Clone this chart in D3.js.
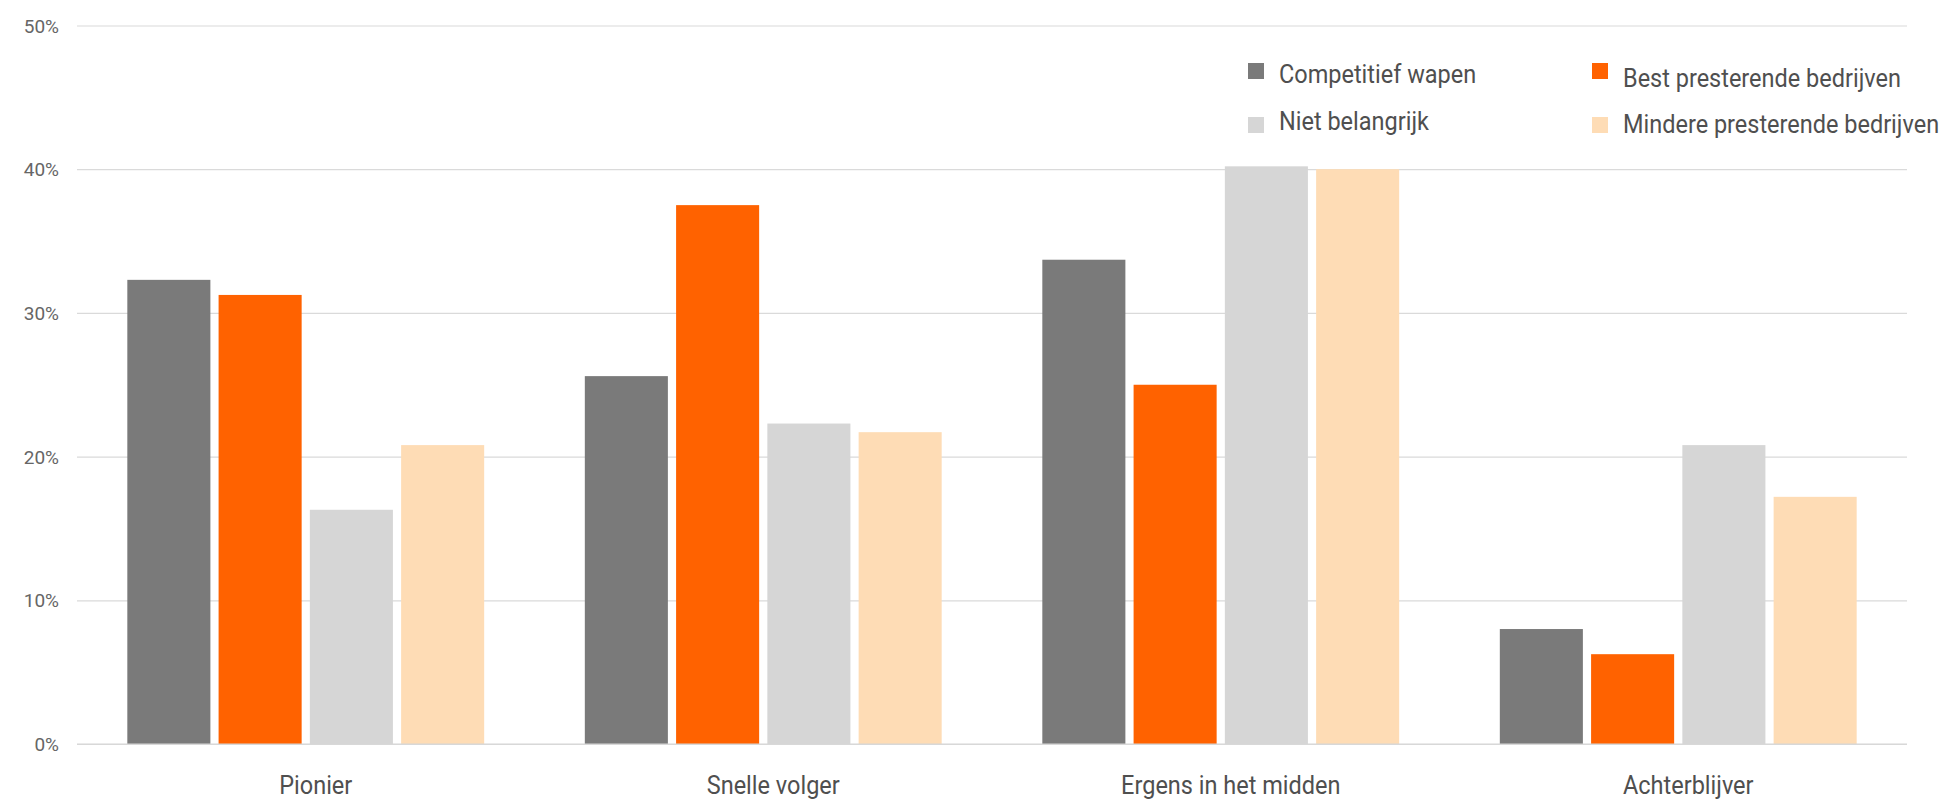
<!DOCTYPE html>
<html>
<head>
<meta charset="utf-8">
<script src="https://cdn.jsdelivr.net/npm/d3@7"></script>
<style>
  html, body { margin: 0; padding: 0; background: #ffffff; }
  svg { display: block; }
</style>
</head>
<body>
<svg id="chart" width="1947" height="801"></svg>
<script>
// ---- data ----
const categories = ["Pionier", "Snelle volger", "Ergens in het midden", "Achterblijver"];
const seriesNames = ["Competitief wapen", "Best presterende bedrijven", "Niet belangrijk", "Mindere presterende bedrijven"];
const competitiefWapen   = [32.3, 25.6, 33.7, 8.0];
const bestPresterend     = [31.25, 37.5, 25.0, 6.25];
const nietBelangrijk     = [16.3, 22.3, 40.2, 20.8];
const minderPresterend   = [20.8, 21.7, 40.0, 17.2];
const yTicks = [0, 10, 20, 30, 40, 50];
const seriesColors = ["#7a7a7a", "#ff6200", "#d6d6d6", "#fedcb5"];

const seriesValues = [competitiefWapen, bestPresterend, nietBelangrijk, minderPresterend];

// ---- layout ----
const svg = d3.select("#chart");
const plotLeft = 77, plotRight = 1907, plotTop = 25.5, plotBottom = 744;
const condensed = 0.94;

const x0 = d3.scaleBand().domain(categories).range([plotLeft, plotRight])
  .paddingInner(0.22).paddingOuter(0.11);
const x1 = d3.scaleBand().domain(seriesNames).range([0, x0.bandwidth()])
  .paddingInner(0.09).paddingOuter(0);
const y = d3.scaleLinear().domain([0, 50]).range([plotBottom, plotTop]);

// gridlines
const yAxis = d3.axisLeft(y).tickValues(yTicks).tickSize(-(plotRight - plotLeft))
  .tickFormat(d => d + "%").tickPadding(18);
const gy = svg.append("g").attr("transform", `translate(${plotLeft},0)`).call(yAxis);
gy.select(".domain").remove();
gy.selectAll(".tick line").attr("stroke", "#dadada").attr("stroke-width", 1.2);
gy.selectAll(".tick text")
  .attr("font-family", "Roboto, sans-serif")
  .attr("font-size", 19)
  .attr("fill", "#666666")
  .attr("dy", "0.35em");

// bars
const rows = categories.map((c, i) => ({ cat: c, vals: seriesNames.map((s, j) => ({ s, v: seriesValues[j][i], j })) }));
const groups = svg.append("g").selectAll("g").data(rows).join("g")
  .attr("transform", d => `translate(${x0(d.cat)},0)`);
groups.selectAll("rect").data(d => d.vals).join("rect")
  .attr("x", d => x1(d.s))
  .attr("width", x1.bandwidth())
  .attr("y", d => y(d.v))
  .attr("height", d => y(0) - y(d.v))
  .attr("fill", d => seriesColors[d.j]);

// baseline on top
svg.append("line").attr("x1", plotLeft).attr("x2", plotRight)
  .attr("y1", y(0)).attr("y2", y(0)).attr("stroke", "#d6d6d6").attr("stroke-width", 1.2);

// x labels
const xAxis = d3.axisBottom(x0).tickSize(0).tickPadding(0);
const gx = svg.append("g").attr("transform", `translate(0,${plotBottom})`).call(xAxis);
gx.select(".domain").remove();
gx.selectAll(".tick text")
  .attr("font-family", "Roboto, sans-serif")
  .attr("font-size", 25)
  .attr("fill", "#4f4f4f")
  .attr("dy", null)
  .attr("y", 50)
  .attr("x", 0)
  .attr("transform", `translate(10,0) scale(${condensed},1)`);

// legend
const legendCols = [1248, 1592];
const legendRows = [63, 117];
const legendTextBase = [[83, 130], [87, 133]];
const legendOrder = [0, 2, 1, 3]; // column-major: col0 row0, col0 row1, col1 row0, col1 row1
const legendItems = seriesNames.map((s, j) => {
  const pos = legendOrder.indexOf(j);
  const col = Math.floor(pos / 2), row = pos % 2;
  return { s, j, col, row };
});
const lg = svg.append("g").selectAll("g").data(legendItems).join("g")
  .attr("transform", d => `translate(${legendCols[d.col]},0)`);
lg.append("rect")
  .attr("x", 0).attr("y", d => legendRows[d.row])
  .attr("width", 16).attr("height", 16)
  .attr("fill", d => seriesColors[d.j]);
lg.append("text")
  .attr("transform", d => `translate(31,${legendTextBase[d.col][d.row]}) scale(${condensed},1)`)
  .attr("font-family", "Roboto, sans-serif")
  .attr("font-size", 25)
  .attr("fill", "#4f4f4f")
  .text(d => d.s);
</script>
</body>
</html>
